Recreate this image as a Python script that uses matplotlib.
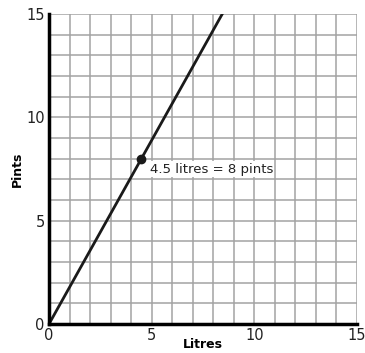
import matplotlib.pyplot as plt
import matplotlib
matplotlib.use('Agg')

litres = [0, 4.5]
pints = [0, 8]
ticks = [0, 5, 10, 15]

fig = plt.figure(figsize=(3.65, 3.53), dpi=100)
ax = fig.add_axes([49/365, 29/353, 308/365, 310/353])
ax.set_xlim(0, 15)
ax.set_ylim(0, 15)

# grid every unit
for v in range(1, 16):
    ax.axvline(v, color='#a3a3a3', lw=1.1, zorder=1)
    ax.axhline(v, color='#a3a3a3', lw=1.1, zorder=1)

ax.axline((litres[0], pints[0]), (litres[1], pints[1]), color='#1a1a1a', lw=2, zorder=3)
ax.plot(litres[1], pints[1], 'o', color='#1a1a1a', ms=6, zorder=4)
ax.text(litres[1] + 0.4, pints[1] - 0.5, '4.5 litres = 8 pints', fontsize=9.5,
        va='center', ha='left', color='#222222', zorder=5,
        bbox=dict(facecolor='white', edgecolor='none', pad=1))

for s in ['top', 'right']:
    ax.spines[s].set_visible(False)
ax.spines['left'].set_linewidth(2.5)
ax.spines['bottom'].set_linewidth(2.5)
ax.spines['left'].set_zorder(6)
ax.spines['bottom'].set_zorder(6)

ax.set_xticks(ticks)
ax.set_yticks(ticks)
ax.tick_params(length=0, labelsize=10.5, labelcolor='#222222', pad=3)
ax.set_xlabel('Litres', fontsize=9, fontweight='bold', labelpad=-4)
ax.set_ylabel('Pints', fontsize=9, fontweight='bold', labelpad=2)

fig.savefig('out.png', dpi=100)
